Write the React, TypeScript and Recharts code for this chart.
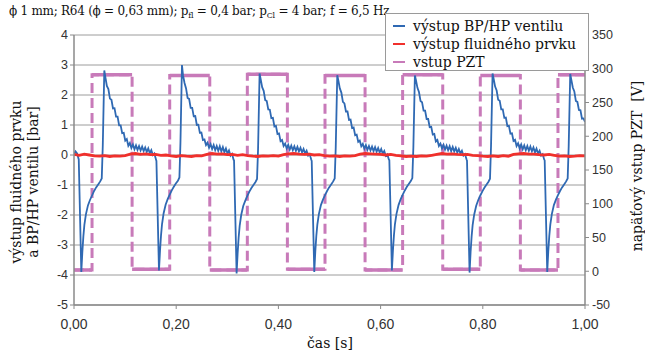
import React from 'react';
import { LineChart, Line, XAxis, YAxis, CartesianGrid } from 'recharts';

// ---- axes ----
const xTicks = [0, 0.2, 0.4, 0.6, 0.8, 1.0];
const leftTicks = [-5, -4, -3, -2, -1, 0, 1, 2, 3, 4];
const rightTicks = [-50, 0, 50, 100, 150, 200, 250, 300, 350];

// ---- vstup PZT [V] (secondary axis) ----
const pztRiseTimes = [0.0353, 0.1873, 0.3392, 0.4912, 0.6431, 0.7951, 0.9471];
const pztFallTimes = [0.1137, 0.2657, 0.4176, 0.5696, 0.7216, 0.8735];
const pztHigh = [291, 290, 292, 290, 291, 290, 291];
const pztLow = [2, 3, 2, 3, 2, 3, 2];

// ---- výstup BP/HP ventilu [bar] ----
// sample offsets (ms) relative to each PZT rise edge
const blueOffsetsMs = [
  -26, -21, -19, -17, -15, -12, -8, -4, 0, 4, 8, 12, 16, 19, 21, 24,
  26, 29, 32, 35, 38, 41, 44, 47, 50, 53, 56, 59, 62, 65, 68, 71, 74, 77, 80,
  83, 86, 89, 92, 95, 98, 101, 104, 107, 110, 113, 116, 119, 122, 125,
];
const blueCycle1 = [-0.15, -3.9, -3.25, -2.72, -2.33, -1.98, -1.68, -1.5, -1.35, -1.2, -1.08, -0.98, -0.88, -0.78, 0.3, 2.82,
  2.6, 2.3, 2.2, 1.88, 1.84, 1.55, 1.56, 1.28, 1.28, 0.99, 0.99, 0.73, 0.74, 0.48, 0.53, 0.31, 0.4, 0.23, 0.35, 0.19, 0.32, 0.17, 0.3, 0.15, 0.28, 0.13, 0.25, 0.1, 0.22, 0.06, 0.16, 0.0, 0.05, -0.14];
const blueCycle2 = [-0.2, -3.85, -3.2, -2.68, -2.3, -1.95, -1.66, -1.47, -1.32, -1.18, -1.06, -0.95, -0.86, -0.75, 0.4, 3.0,
  2.66, 2.4, 2.22, 1.9, 1.87, 1.57, 1.57, 1.29, 1.3, 1.0, 1.01, 0.74, 0.75, 0.5, 0.52, 0.33, 0.41, 0.24, 0.36, 0.2, 0.33, 0.16, 0.3, 0.14, 0.29, 0.12, 0.26, 0.09, 0.22, 0.05, 0.15, -0.02, 0.04, -0.16];
const blueCycle3 = [-0.18, -3.95, -3.28, -2.75, -2.36, -2.0, -1.7, -1.52, -1.36, -1.22, -1.1, -1.0, -0.9, -0.8, 0.2, 2.72,
  2.54, 2.26, 2.14, 1.83, 1.8, 1.52, 1.51, 1.23, 1.24, 0.95, 0.97, 0.7, 0.72, 0.46, 0.5, 0.3, 0.38, 0.22, 0.34, 0.18, 0.31, 0.16, 0.29, 0.14, 0.27, 0.12, 0.24, 0.09, 0.2, 0.05, 0.14, -0.02, 0.03, -0.15];
const blueCycle4 = [-0.2, -3.9, -3.22, -2.7, -2.32, -1.97, -1.67, -1.49, -1.34, -1.2, -1.08, -0.98, -0.88, -0.78, 0.25, 2.66,
  2.49, 2.22, 2.08, 1.77, 1.72, 1.45, 1.45, 1.17, 1.18, 0.9, 0.92, 0.66, 0.68, 0.44, 0.48, 0.29, 0.37, 0.21, 0.33, 0.17, 0.3, 0.15, 0.28, 0.13, 0.26, 0.11, 0.23, 0.08, 0.2, 0.04, 0.13, -0.03, 0.02, -0.15];
const blueCycle5 = [-0.17, -3.85, -3.2, -2.68, -2.3, -1.96, -1.67, -1.48, -1.33, -1.19, -1.07, -0.97, -0.87, -0.77, 0.25, 2.65,
  2.5, 2.24, 2.1, 1.8, 1.76, 1.48, 1.48, 1.2, 1.2, 0.93, 0.94, 0.68, 0.7, 0.45, 0.5, 0.3, 0.38, 0.22, 0.34, 0.18, 0.31, 0.16, 0.29, 0.13, 0.27, 0.12, 0.24, 0.08, 0.2, 0.05, 0.14, -0.02, 0.03, -0.14];
const blueCycle6 = [-0.19, -3.92, -3.24, -2.72, -2.34, -1.99, -1.69, -1.5, -1.35, -1.21, -1.09, -0.99, -0.89, -0.79, 0.3, 2.72,
  2.55, 2.28, 2.15, 1.84, 1.81, 1.52, 1.52, 1.24, 1.25, 0.96, 0.97, 0.71, 0.72, 0.47, 0.51, 0.3, 0.39, 0.22, 0.35, 0.19, 0.32, 0.16, 0.3, 0.14, 0.28, 0.12, 0.25, 0.09, 0.21, 0.05, 0.14, -0.02, 0.03, -0.15];
const blueCycle7 = [-0.18, -3.9, -3.22, -2.7, -2.32, -1.97, -1.67, -1.49, -1.34, -1.2, -1.08, -0.98, -0.88, -0.78, 0.3, 2.7,
  2.52, 2.25, 2.12, 1.8, 1.77, 1.5, 1.49, 1.21, 1.22];
const blueCycles = [blueCycle1, blueCycle2, blueCycle3, blueCycle4, blueCycle5, blueCycle6, blueCycle7];
const blueLeadTimes = [0, 0.003, 0.006];
const blueLeadValues = [0.02, 0.12, 0.05];
const blueEnd = { t: 1.0, v: 1.1 };

// ---- výstup fluidného prvku [bar], sampled every 10 ms ----
const redValues = [
  0.02, -0.01, 0.03, 0.0, -0.03, -0.04, -0.02, -0.05, -0.03, -0.04,
  -0.02, 0.03, 0.05, 0.02, 0.04, 0.01, 0.02, -0.01, 0.0, -0.03,
  -0.05, -0.02, -0.04, -0.05, -0.02, -0.03, 0.02, 0.05, 0.03, 0.04,
  0.01, 0.02, -0.01, 0.01, -0.02, -0.04, -0.05, -0.03, -0.04, -0.02,
  -0.04, 0.01, 0.04, 0.05, 0.03, 0.02, 0.03, 0.0, 0.01, -0.02,
  -0.04, -0.03, -0.05, -0.03, -0.04, -0.02, 0.03, 0.05, 0.04, 0.03,
  0.02, 0.0, 0.02, -0.01, -0.03, -0.05, -0.04, -0.05, -0.03, -0.04,
  -0.01, 0.02, 0.05, 0.03, 0.04, 0.02, 0.01, 0.02, -0.01, -0.02,
  -0.04, -0.05, -0.03, -0.05, -0.02, -0.04, 0.02, 0.04, 0.05, 0.03,
  0.03, 0.01, 0.0, 0.02, -0.01, -0.04, -0.03, -0.05, -0.04, -0.02,
  -0.03,
];
const redStep = 0.01;

// ---- build tables ----
type P = { t: number; v: number | null };

const pztDash: P[] = [];
const pztFlat: P[] = [];
pztDash.push({ t: 0, v: pztLow[0] });
pztFlat.push({ t: 0, v: pztLow[0] });
pztRiseTimes.forEach((r, i) => {
  const lowV = pztLow[i];
  const highV = pztHigh[i];
  pztDash.push({ t: r, v: lowV });
  pztFlat.push({ t: r, v: lowV });
  pztFlat.push({ t: r, v: null });
  pztDash.push({ t: r, v: highV });
  pztFlat.push({ t: r, v: highV });
  const f = i < pztFallTimes.length ? pztFallTimes[i] : 1.0;
  pztDash.push({ t: f, v: highV });
  pztFlat.push({ t: f, v: highV });
  if (i < pztFallTimes.length) {
    const nextLow = pztLow[i + 1];
    pztFlat.push({ t: f, v: null });
    pztDash.push({ t: f, v: nextLow });
    pztFlat.push({ t: f, v: nextLow });
  }
});

const blueData: P[] = blueLeadTimes.map((t, i) => ({ t, v: blueLeadValues[i] }));
blueCycles.forEach((vals, c) => {
  vals.forEach((v, k) => {
    const t = pztRiseTimes[c] + blueOffsetsMs[k] / 1000;
    if (t >= 0 && t <= 1) blueData.push({ t, v });
  });
});
blueData.push(blueEnd);

const redData: P[] = redValues.map((v, i) => ({ t: +(i * redStep).toFixed(3), v }));

const fmtX = (v: number) => v.toFixed(2).replace('.', ',');

const BLUE = '#2f69b3';
const RED = '#f0302c';
const PINK = '#c87ab9';
const GRID = '#9c9c9c';
const AXIS = '#8a8a8a';
const SANS = '"Liberation Sans", Arial, sans-serif';
const SERIF = '"DejaVu Serif", "Liberation Serif", serif';

const legendItems = [
  { name: 'výstup BP/HP ventilu', color: BLUE },
  { name: 'výstup fluidného prvku', color: RED },
  { name: 'vstup PZT', color: PINK },
];

export default function App() {
  return (
    <div style={{ position: 'absolute', left: 0, top: 0, width: 645, height: 353, background: '#fff', overflow: 'hidden' }}>
      <LineChart width={645} height={353} margin={{ top: 35, right: 0, bottom: 0, left: 0 }}>
        <CartesianGrid yAxisId="left" vertical={false} horizontal stroke={GRID} strokeWidth={1} />
        <XAxis
          type="number"
          dataKey="t"
          domain={[0, 1]}
          ticks={xTicks}
          tickFormatter={fmtX}
          height={48}
          allowDataOverflow
          axisLine={{ stroke: AXIS, strokeWidth: 1.5 }}
          tickLine={{ stroke: AXIS }}
          tickSize={4}
          tickMargin={10}
          tick={{ fontSize: 14, fill: '#333', fontFamily: SANS }}
        />
        <YAxis
          yAxisId="left"
          width={74}
          domain={[-5, 4]}
          ticks={leftTicks}
          allowDataOverflow
          axisLine={{ stroke: AXIS, strokeWidth: 1.5 }}
          tickLine={{ stroke: AXIS }}
          tickSize={4}
          tickMargin={2}
          tick={{ fontSize: 12.5, fill: '#333', fontFamily: SANS }}
        />
        <YAxis
          yAxisId="right"
          orientation="right"
          width={60}
          domain={[-50, 350]}
          ticks={rightTicks}
          allowDataOverflow
          axisLine={{ stroke: AXIS, strokeWidth: 1.5 }}
          tickLine={{ stroke: AXIS }}
          tickSize={4}
          tickMargin={3}
          tick={{ fontSize: 12.5, fill: '#333', fontFamily: SANS }}
        />
        <Line yAxisId="right" data={pztDash} dataKey="v" stroke={PINK} strokeWidth={3} strokeDasharray="10 5" dot={false} connectNulls isAnimationActive={false} />
        <Line yAxisId="right" data={pztFlat} dataKey="v" stroke={PINK} strokeWidth={3.5} dot={false} connectNulls={false} isAnimationActive={false} />
        <Line yAxisId="left" data={blueData} dataKey="v" stroke={BLUE} strokeWidth={1.8} dot={false} isAnimationActive={false} />
        <Line yAxisId="left" data={redData} dataKey="v" stroke={RED} strokeWidth={2.8} dot={false} isAnimationActive={false} />
      </LineChart>

      {/* title */}
      <div style={{ position: 'absolute', left: 9, top: 4, fontFamily: SERIF, fontSize: 12, letterSpacing: -0.25, color: '#111', whiteSpace: 'nowrap' }}>
        ϕ 1 mm; R64 (ϕ = 0,63 mm); p<sub style={{ fontSize: 8 }}>fl</sub> = 0,4 bar; p<sub style={{ fontSize: 8 }}>Cl</sub> = 4 bar; f = 6,5 Hz
      </div>

      {/* legend */}
      <div style={{ position: 'absolute', left: 385, top: 13, width: 202, height: 56, background: '#fff', border: '1px solid #9a9a9a', fontFamily: SERIF, fontSize: 14, color: '#111' }}>
        {legendItems.map((it, i) => (
          <div key={it.name} style={{ position: 'absolute', left: 7, top: 3 + i * 18, height: 18, display: 'flex', alignItems: 'center', whiteSpace: 'nowrap' }}>
            <span style={{ display: 'inline-block', width: 12, height: 2.5, background: it.color, marginRight: 8 }} />
            <span>{it.name}</span>
          </div>
        ))}
      </div>

      {/* left axis title */}
      <div style={{ position: 'absolute', left: 25, top: 182, transform: 'translate(-50%, -50%) rotate(-90deg)', fontFamily: SERIF, fontSize: 14, lineHeight: '17px', textAlign: 'center', whiteSpace: 'nowrap', color: '#111' }}>
        výstup fluidného prvku<br />a BP/HP ventilu [bar]
      </div>

      {/* right axis title */}
      <div style={{ position: 'absolute', left: 637, top: 166, transform: 'translate(-50%, -50%) rotate(-90deg)', fontFamily: SERIF, fontSize: 14, whiteSpace: 'nowrap', color: '#111' }}>
        napäťový vstup PZT&nbsp; [V]
      </div>

      {/* x axis title */}
      <div style={{ position: 'absolute', left: 330, top: 343, transform: 'translate(-50%, -50%)', fontFamily: SERIF, fontSize: 14, whiteSpace: 'nowrap', color: '#111' }}>
        čas [s]
      </div>
    </div>
  );
}
